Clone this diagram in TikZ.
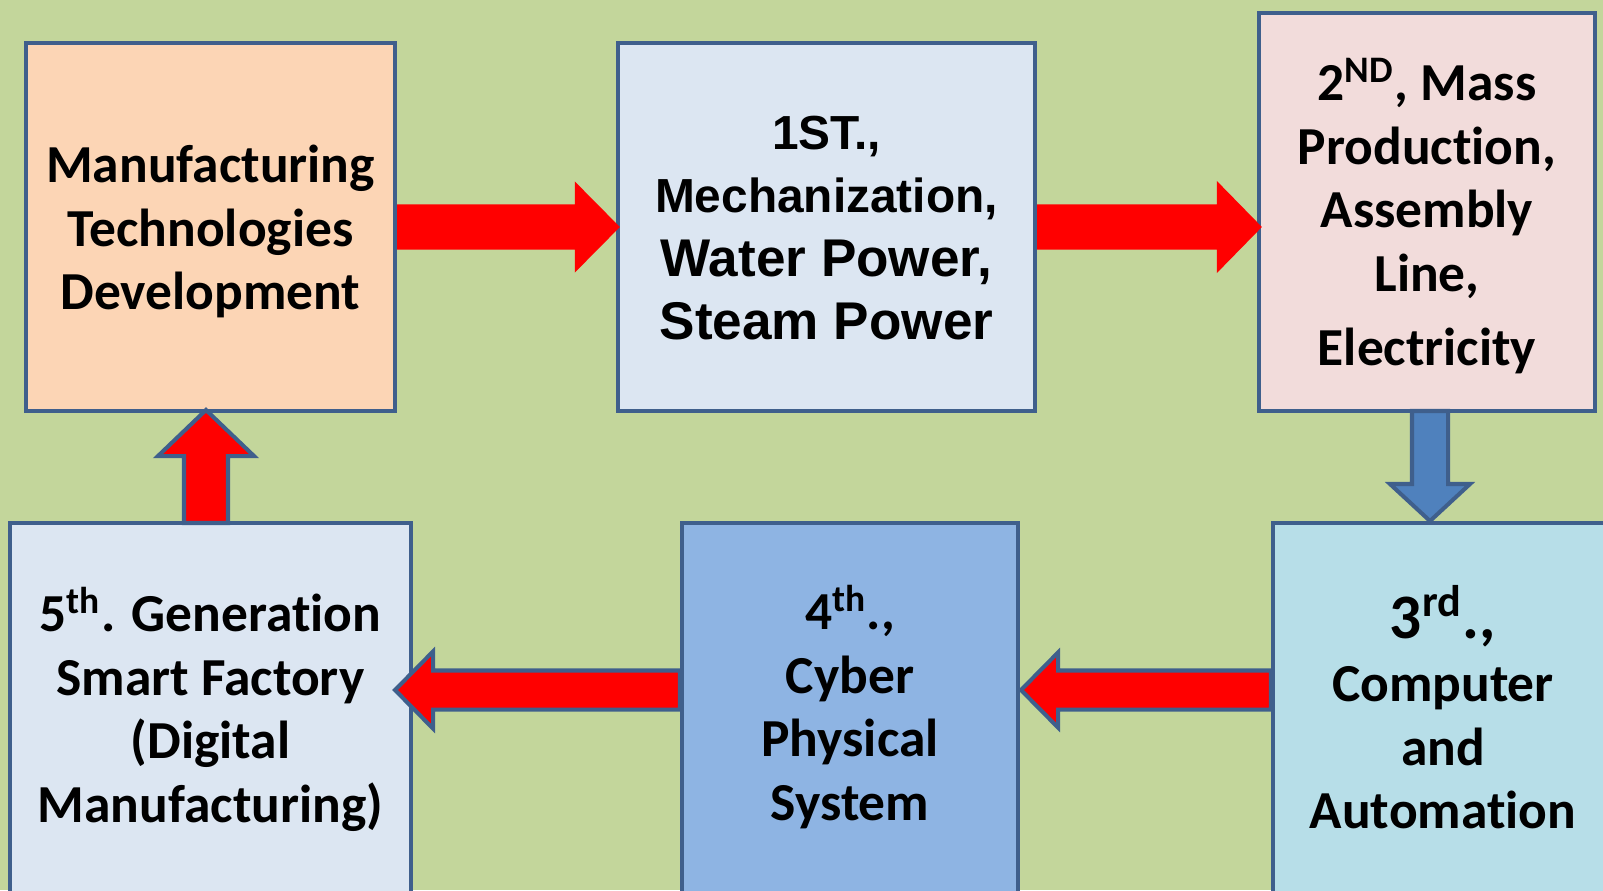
\documentclass[tikz,border=0pt]{standalone}
\usepackage{fontspec}
\setmainfont{Carlito}[Ligatures=NoCommon]
\newfontfamily\arialfont{Liberation Sans}
\usetikzlibrary{calc}
\pgfdeclarelayer{back}
\pgfsetlayers{back,main}
\definecolor{bgreen}{HTML}{C3D69B}
\definecolor{bordc}{HTML}{3F5F8C}
\definecolor{peach}{HTML}{FCD5B5}
\definecolor{paleblue}{HTML}{DCE6F2}
\definecolor{palepink}{HTML}{F2DCDB}
\definecolor{paleaqua}{HTML}{B7DEE8}
\definecolor{midblue}{HTML}{8EB4E3}
\definecolor{arrblue}{HTML}{4F81BD}
\definecolor{arrred}{HTML}{FF0000}
\newcommand{\myfatarrow}[6]{%
  \path[#6] ($(#1)!#3!90:(#2)$) -- ($($(#2)!#5!(#1)$)!#3!90:(#2)$) -- ($($(#2)!#5!(#1)$)!#4!90:(#2)$) -- (#2) -- ($($(#2)!#5!(#1)$)!#4!-90:(#2)$) -- ($($(#2)!#5!(#1)$)!#3!-90:(#2)$) -- ($(#1)!#3!-90:(#2)$) -- cycle;}
\tikzset{
  boxstyle/.style={draw=bordc, line width=1.15pt, rectangle, inner sep=0pt},
  lbl/.style={align=center, font=\fontsize{15.2}{18.07}\selectfont\bfseries, inner sep=0pt},
  lblarial/.style={align=center, font=\fontsize{13.6}{18.07}\selectfont\arialfont\bfseries, inner sep=0pt},
  redplain/.style={fill=arrred},
  redoutl/.style={fill=arrred, draw=bordc, line width=1.15pt, line join=miter},
  blueoutl/.style={fill=arrblue, draw=bordc, line width=1.15pt, line join=miter}
}
\begin{document}
\begin{tikzpicture}[x=0.01cm,y=-0.01cm]
\useasboundingbox (0,0) rectangle (1603,890);
\begin{pgfonlayer}{back}
\fill[bgreen] (0,0) rectangle (1603,890);
\end{pgfonlayer}
\begin{scope}
\clip (0,0) rectangle (1603,890);
% boxes
\node[boxstyle, fill=peach, minimum width=3.69cm, minimum height=3.68cm] (A) at (210.5,227) {};
\node[boxstyle, fill=paleblue, minimum width=4.17cm, minimum height=3.68cm] (B) at (826.5,227) {};
\node[boxstyle, fill=palepink, minimum width=3.36cm, minimum height=3.98cm] (C) at (1427,212) {};
\node[boxstyle, fill=paleaqua, minimum width=3.40cm, minimum height=3.80cm] (D) at (1443,713) {};
\node[boxstyle, fill=midblue, minimum width=3.36cm, minimum height=3.70cm] (E) at (850,708) {};
\node[boxstyle, fill=paleblue, minimum width=4.01cm, minimum height=3.74cm] (F) at (210.5,710) {};
% texts
\node[lbl] (At) at (210.5,231.5) {Manufacturing\\Technologies\\Development};
\node[lblarial] (Bt) at (826.5,228) {1ST.,\\Mechanization,\\{\fontsize{15.1}{18.07}\selectfont Water Power,}\\{\fontsize{15.1}{18.07}\selectfont Steam Power}};
\node[lbl] (Ct) at (1427,216) {2\textsuperscript{ND}, Mass\\Production,\\Assembly\\Line,\\[3pt]Electricity};
\node[lbl] (Dt) at (1443,707) {{\fontsize{18}{18.07}\selectfont 3\textsuperscript{rd}.,}\\Computer\\and\\Automation};
\node[lbl] (Et) at (850,707) {4\textsuperscript{th}.,\\Cyber\\Physical\\System};
\node[lbl] (Ft) at (210.5,709) {5\textsuperscript{th}. Generation\\Smart Factory\\(Digital\\Manufacturing)};
% arrow end points
\coordinate (a1s) at (A.east);
\coordinate (a1e) at ($(B.west)+(4,0)$);
\coordinate (a2s) at (B.east);
\coordinate (a2e) at ($(B.east -| C.west)+(5,0)$);
\coordinate (a3s) at (1430,411);
\coordinate (a3e) at (1430,521);
\coordinate (a4s) at (D.west |- 0,690);
\coordinate (a4e) at (1021,690);
\coordinate (a5s) at (E.west |- 0,690);
\coordinate (a5e) at (395,690);
\coordinate (a6s) at (206,523);
\coordinate (a6e) at (206,410);
\myfatarrow{a1s}{a1e}{0.225cm}{0.455cm}{0.45cm}{redplain}
\myfatarrow{a2s}{a2e}{0.225cm}{0.46cm}{0.45cm}{redplain}
\myfatarrow{a3s}{a3e}{0.18cm}{0.40cm}{0.37cm}{blueoutl}
\myfatarrow{a4s}{a4e}{0.195cm}{0.375cm}{0.37cm}{redoutl}
\myfatarrow{a5s}{a5e}{0.195cm}{0.385cm}{0.38cm}{redoutl}
\myfatarrow{a6s}{a6e}{0.22cm}{0.48cm}{0.46cm}{redoutl}
\end{scope}
\end{tikzpicture}
\end{document}
